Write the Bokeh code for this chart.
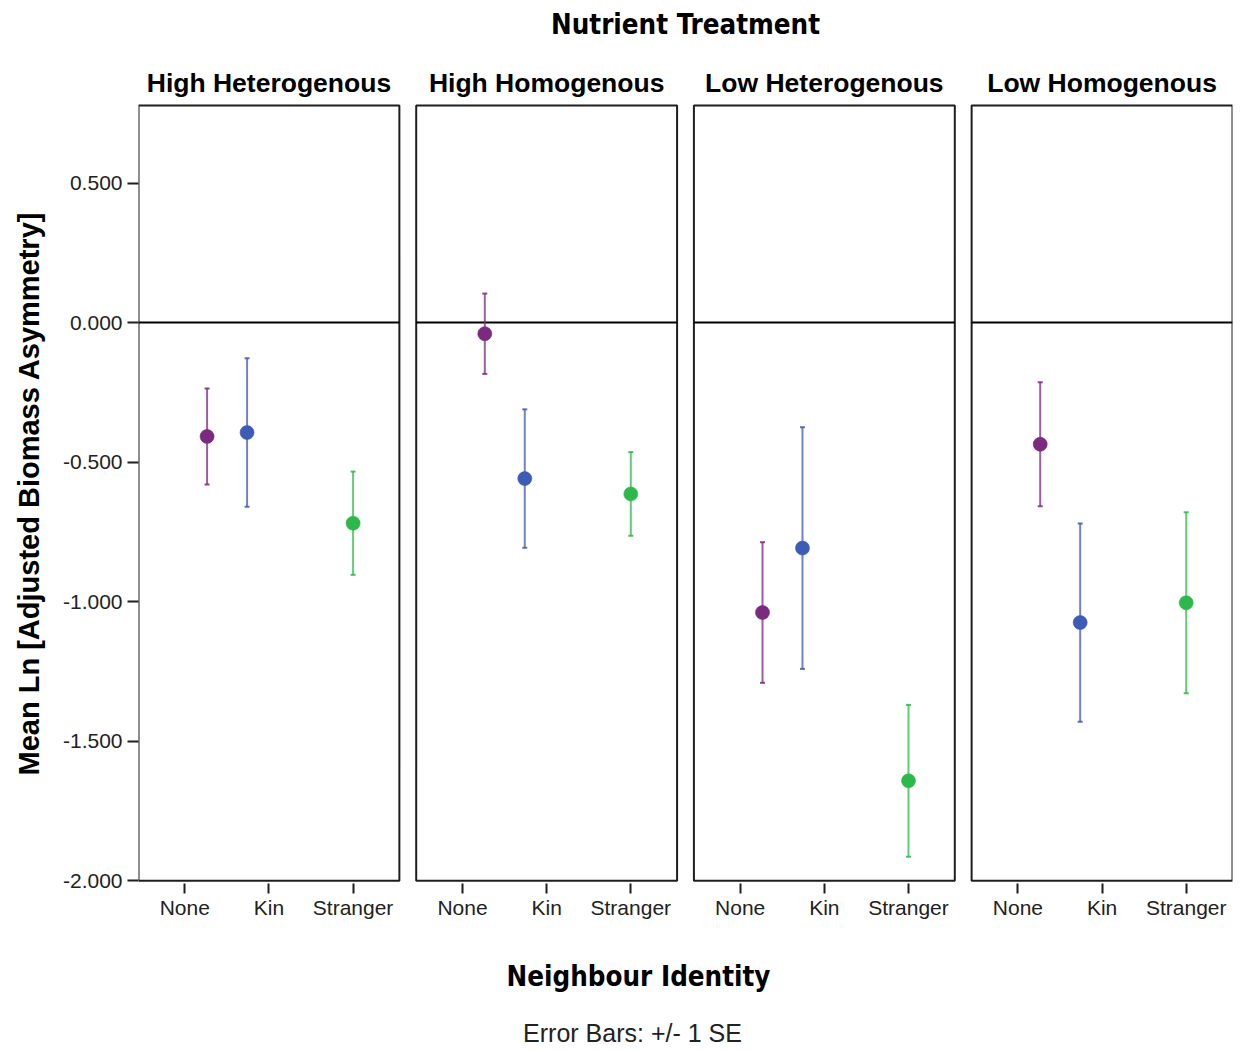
from bokeh.plotting import figure
from bokeh.models import Range1d, NumeralTickFormatter
from bokeh.layouts import column
from bokeh.embed import file_html
from bokeh.resources import INLINE
from bokeh.core.properties import value

# ---- data: mean Ln[adjusted biomass asymmetry] and its standard error ----
treatments = ["High Heterogenous", "High Homogenous", "Low Heterogenous", "Low Homogenous"]
identities = ["None", "Kin", "Stranger"]

mean_none = [-0.408, -0.040, -1.039, -0.436]
se_none = [0.172, 0.144, 0.252, 0.222]

mean_kin = [-0.394, -0.559, -0.808, -1.075]
se_kin = [0.266, 0.248, 0.433, 0.355]

mean_stranger = [-0.719, -0.614, -1.642, -1.004]
se_stranger = [0.185, 0.150, 0.272, 0.324]

y_ticks = [-2.0, -1.5, -1.0, -0.5, 0.0, 0.5]

# ---- styling / layout ----
point_colors = {"None": "#7b2a7f", "Kin": "#3e5bb6", "Stranger": "#2db84b"}
cat_pos = {"None": 0, "Kin": 10, "Stranger": 20}
dodge = {"None": 2.65, "Kin": -2.6, "Stranger": 0.0}
stride = 33
panel_lo, panel_hi = -5.5, 25.5
y_lo, y_hi = -2.0, 0.778

series = {
    "None": (mean_none, se_none),
    "Kin": (mean_kin, se_kin),
    "Stranger": (mean_stranger, se_stranger),
}

W = 1241
TOP_H, MAIN_H, BOT_H = 103, 827, 121
LEFT, RIGHT = 138, 9

x_range = Range1d(panel_lo, panel_hi + stride * (len(treatments) - 1))

ARIAL = value("Liberation Sans")
WIDE_BOLD = value("'DejaVu Sans Condensed', 'DejaVu Sans', sans-serif")


def bare(fig):
    fig.outline_line_color = None
    fig.background_fill_color = "white"
    fig.border_fill_color = "white"
    fig.xgrid.visible = False
    fig.ygrid.visible = False
    return fig


# ---- header: overall title and panel titles ----
top = bare(figure(width=W, height=TOP_H, x_range=x_range, y_range=Range1d(TOP_H, 0),
                  x_axis_location=None, y_axis_location=None,
                  min_border_left=LEFT, min_border_right=RIGHT,
                  min_border_top=0, min_border_bottom=0,
                  output_backend="svg", toolbar_location=None))
top.text(x=[(x_range.start + x_range.end) / 2], y=[23], text=["Nutrient Treatment"],
         text_align="center", text_baseline="middle", text_font=WIDE_BOLD,
         text_font_size="27.5px", text_font_style="bold", text_color="#000000")
top.text(x=[i * stride + cat_pos["Kin"] for i in range(len(treatments))],
         y=[82] * len(treatments), text=treatments,
         text_align="center", text_baseline="middle", text_font=ARIAL,
         text_font_size="26.5px", text_font_style="bold", text_color="#000000")

# ---- main panels ----
p = bare(figure(width=W, height=MAIN_H, x_range=x_range, y_range=Range1d(-2.01, 0.785),
                min_border_left=LEFT, min_border_right=RIGHT,
                min_border_top=0, min_border_bottom=47,
                output_backend="svg", toolbar_location=None))

lefts = [i * stride + panel_lo for i in range(len(treatments))]
rights = [i * stride + panel_hi for i in range(len(treatments))]
p.quad(left=lefts, right=rights, bottom=y_lo, top=y_hi,
       fill_color=None, line_color="#1e1e1e", line_width=2)
p.segment(x0=lefts, x1=rights, y0=[0] * len(lefts), y1=[0] * len(lefts),
          line_color="#000000", line_width=2)

for ident in identities:
    means, ses = series[ident]
    xs = [i * stride + cat_pos[ident] + dodge[ident] for i in range(len(means))]
    lows = [m - s for m, s in zip(means, ses)]
    highs = [m + s for m, s in zip(means, ses)]
    col = point_colors[ident]
    p.segment(x0=xs, x1=xs, y0=lows, y1=highs, line_color=col, line_width=2, line_alpha=0.75)
    p.scatter(x=xs + xs, y=lows + highs, marker="dash", size=5,
              line_color=col, line_width=2, line_alpha=0.85)
    p.scatter(x=xs, y=means, size=14, fill_color=col, line_color=col, line_alpha=0.6)

# x axis: category ticks under every panel
tick_x = [i * stride + cat_pos[c] for i in range(len(treatments)) for c in identities]
p.xaxis.ticker = tick_x
p.xaxis.major_label_overrides = {
    i * stride + cat_pos[c]: c for i in range(len(treatments)) for c in identities
}
p.xaxis.axis_line_color = None
p.xaxis.major_tick_in = 0
p.xaxis.major_tick_out = 10
p.xaxis.major_tick_line_color = "#1e1e1e"
p.xaxis.major_tick_line_width = 2
p.xaxis.minor_tick_line_color = None
p.xaxis.major_label_standoff = 2
p.xaxis.major_label_text_font = "Liberation Sans"
p.xaxis.major_label_text_font_size = "21px"
p.xaxis.major_label_text_color = "#222222"

# y axis
p.yaxis.ticker = y_ticks
p.yaxis.formatter = NumeralTickFormatter(format="0.000")
p.yaxis.axis_line_color = None
p.yaxis.major_tick_in = 0
p.yaxis.major_tick_out = 11
p.yaxis.major_tick_line_color = "#1e1e1e"
p.yaxis.major_tick_line_width = 2
p.yaxis.minor_tick_line_color = None
p.yaxis.major_label_standoff = 5
p.yaxis.major_label_text_font = "Liberation Sans"
p.yaxis.major_label_text_font_size = "21px"
p.yaxis.major_label_text_color = "#222222"
p.yaxis.axis_label = "Mean Ln [Adjusted Biomass Asymmetry]"
p.yaxis.axis_label_text_font = "Liberation Sans"
p.yaxis.axis_label_text_font_size = "29px"
p.yaxis.axis_label_text_font_style = "bold"
p.yaxis.axis_label_text_color = "#000000"
p.yaxis.axis_label_standoff = 15

# ---- footer: x title and error bar note (x in page pixels) ----
bot = bare(figure(width=W, height=BOT_H, x_range=Range1d(LEFT, W - RIGHT),
                  y_range=Range1d(BOT_H, 0),
                  x_axis_location=None, y_axis_location=None,
                  min_border_left=LEFT, min_border_right=RIGHT,
                  min_border_top=0, min_border_bottom=0,
                  output_backend="svg", toolbar_location=None))
bot.text(x=[638], y=[45], text=["Neighbour Identity"], text_align="center",
         text_baseline="middle", text_font=WIDE_BOLD, text_font_size="27.5px",
         text_font_style="bold", text_color="#000000")
bot.text(x=[632], y=[102], text=["Error Bars: +/- 1 SE"], text_align="center",
         text_baseline="middle", text_font=ARIAL, text_font_size="25px",
         text_color="#222222")

layout = column(top, p, bot, spacing=0)
open("out.html", "w").write(file_html(layout, INLINE))
